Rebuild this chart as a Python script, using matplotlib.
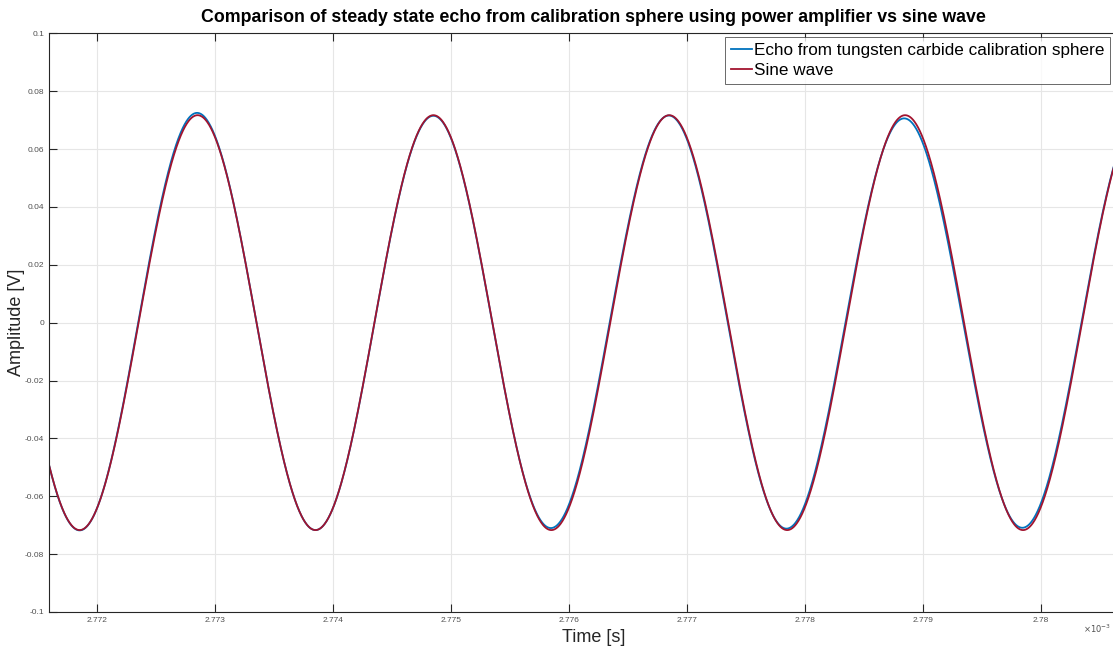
import matplotlib.pyplot as plt
import numpy as np
from matplotlib.ticker import FuncFormatter

plt.rcParams['font.family'] = ['Liberation Sans', 'DejaVu Sans']

# time axis in units of 1e-3 s (axes runs a bit past the right edge of the image)
x_limits = [2.77159, 2.78083]
x_ticks = [2.772, 2.773, 2.774, 2.775, 2.776, 2.777, 2.778, 2.779, 2.78]
y_ticks = [-0.1, -0.08, -0.06, -0.04, -0.02, 0, 0.02, 0.04, 0.06, 0.08, 0.1]

# sine wave parameters
sine_amplitude = 0.0717
sine_period = 0.002
sine_peak_time = 2.77285

# echo extrema (time, value)
echo_ext_t = [2.77085, 2.77185, 2.77285, 2.77385, 2.77485, 2.77585, 2.77685,
              2.77785, 2.77885, 2.77985, 2.78085]
echo_ext_v = [0.0717, -0.0718, 0.0725, -0.0717, 0.0715, -0.0710, 0.0716,
              -0.0712, 0.0706, -0.0709, 0.0717]
echo_shift = [0.0, 0.0, -0.000004, 0.0, 0.0, -0.000004, -0.000004, -0.000006,
              -0.000008, -0.000006, 0.0]

t = np.linspace(x_limits[0], x_limits[1], 3000)
sine = sine_amplitude * np.cos(2 * np.pi * (t - sine_peak_time) / sine_period)

# echo: half-cosine segments between the measured extrema
echo = np.zeros_like(t)
ext_t = np.array(echo_ext_t) + np.array(echo_shift)
for i in range(len(ext_t) - 1):
    m = (t >= ext_t[i]) & (t <= ext_t[i + 1])
    frac = (t[m] - ext_t[i]) / (ext_t[i + 1] - ext_t[i])
    a, b = echo_ext_v[i], echo_ext_v[i + 1]
    echo[m] = (a + b) / 2 + (a - b) / 2 * np.cos(np.pi * frac)

fig = plt.figure(figsize=(11.13, 6.48), dpi=100)
ax = fig.add_axes([0.044, 0.0556, 0.979, 0.893])

ax.plot(t, echo, color='#0072BD', lw=1.3, label='Echo from tungsten carbide calibration sphere')
ax.plot(t, sine, color='#A2142F', lw=1.3, label='Sine wave')

ax.set_xlim(x_limits)
ax.set_ylim(-0.1, 0.1)
ax.set_xticks(x_ticks)
ax.set_yticks(y_ticks)
ax.xaxis.set_major_formatter(FuncFormatter(lambda v, p: '%g' % round(v, 4)))
ax.yaxis.set_major_formatter(FuncFormatter(lambda v, p: '%g' % round(v, 3)))
ax.tick_params(direction='in', labelsize=6, colors='#262626', labelcolor='#505050',
               top=True, right=False, length=6, width=0.8)
ax.grid(True, color='#e6e6e6', lw=0.8)
for s in ax.spines.values():
    s.set_color('#262626')
    s.set_linewidth(0.8)

ax.set_xlabel('Time [s]', fontsize=13, color='#262626', labelpad=4)
ax.set_ylabel('Amplitude [V]', fontsize=13, color='#262626')
ax.yaxis.set_label_coords(-0.022, 0.5)
ax.set_title('Comparison of steady state echo from calibration sphere using power amplifier vs sine wave',
             fontsize=12.8, fontweight='bold', pad=8)
fig.text(1111 / 1113, 0.03, r'$\times10^{-3}$', fontsize=6, color='#505050', ha='right', va='center')

leg = ax.legend(loc='upper right', bbox_to_anchor=(1110 / 1113, 611 / 648),
                bbox_transform=fig.transFigure, fontsize=12.3, handlelength=1.2,
                handletextpad=0.1, borderpad=0.35, labelspacing=0.3, fancybox=False,
                borderaxespad=0.0)
leg.get_frame().set_edgecolor('#262626')
leg.get_frame().set_linewidth(0.6)

fig.savefig('out.png', dpi=100)
